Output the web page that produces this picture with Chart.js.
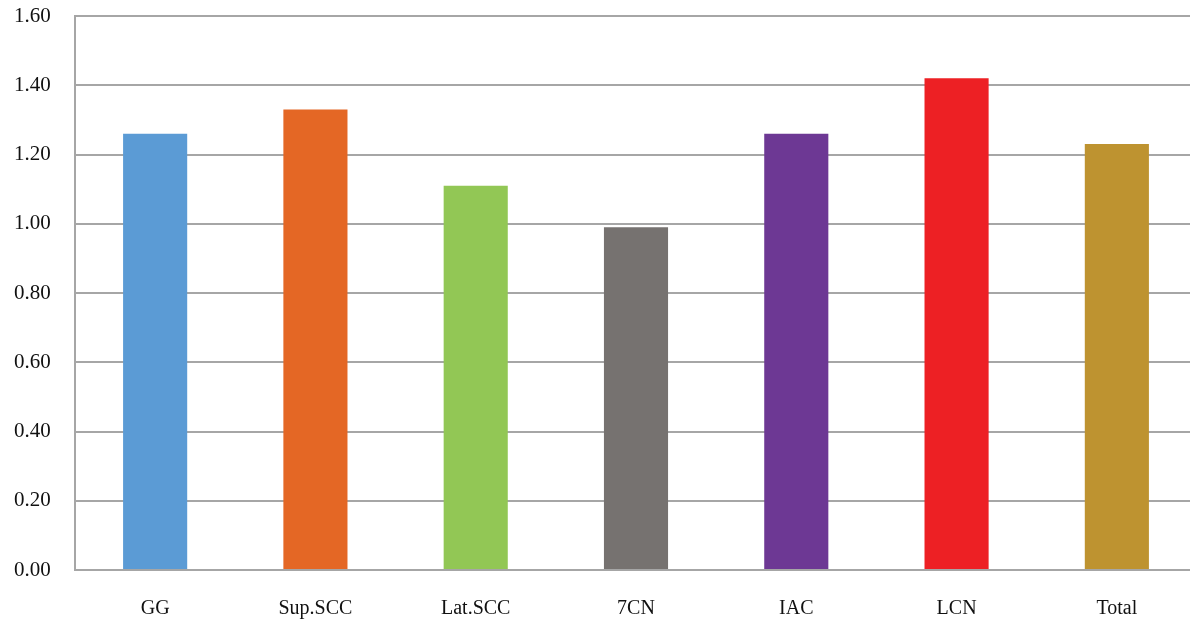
<!DOCTYPE html>
<html>
<head>
<meta charset="utf-8">
<script src="https://cdn.jsdelivr.net/npm/chart.js@4"></script>
<style>
  body { margin: 0; background: #fff; overflow: hidden; }
  #wrap { width: 1190px; height: 622px; overflow: hidden; }
</style>
</head>
<body>
<div id="wrap"><canvas id="c" width="1197" height="622"></canvas></div>
<script>
// categories and values
const categories = ['GG', 'Sup.SCC', 'Lat.SCC', '7CN', 'IAC', 'LCN', 'Total'];
const values = [1.26, 1.33, 1.11, 0.99, 1.26, 1.42, 1.23];
const barColors = ['#5b9bd5', '#e46725', '#92c755', '#767270', '#6d3894', '#ed2024', '#be9330'];
const yTicks = [0, 0.2, 0.4, 0.6, 0.8, 1.0, 1.2, 1.4, 1.6];

const gridGrey = '#a6a6a6';
const fontFamily = '"Liberation Serif", "DejaVu Serif", serif';

new Chart(document.getElementById('c'), {
    type: 'bar',
    data: {
        labels: categories,
        datasets: [{
            data: values,
            backgroundColor: barColors,
            borderWidth: 0,
            categoryPercentage: 1,
            barPercentage: 0.4
        }]
    },
    options: {
        responsive: false,
        animation: false,
        layout: { padding: { top: 16, left: 14, right: 0, bottom: 0 } },
        plugins: {
            legend: { display: false },
            tooltip: { enabled: false }
        },
        scales: {
            x: {
                grid: { display: false, drawTicks: false },
                border: { display: true, color: gridGrey, width: 2 },
                afterFit: function(axis) { axis.height = 52; },
                ticks: {
                    color: '#111',
                    font: { family: fontFamily, size: 20 },
                    padding: 27,
                    maxRotation: 0
                }
            },
            y: {
                min: 0,
                max: 1.6,
                afterBuildTicks: function(axis) {
                    axis.ticks = yTicks.map(v => ({ value: v }));
                },
                afterFit: function(axis) { axis.width = 61; },
                grid: { color: gridGrey, lineWidth: 2, drawTicks: false },
                border: { display: true, color: gridGrey, width: 2 },
                ticks: {
                    color: '#111',
                    font: { family: fontFamily, size: 21 },
                    padding: 0,
                    crossAlign: 'far',
                    callback: function(value) { return Number(value).toFixed(2); }
                }
            }
        }
    }
});
</script>
</body>
</html>
